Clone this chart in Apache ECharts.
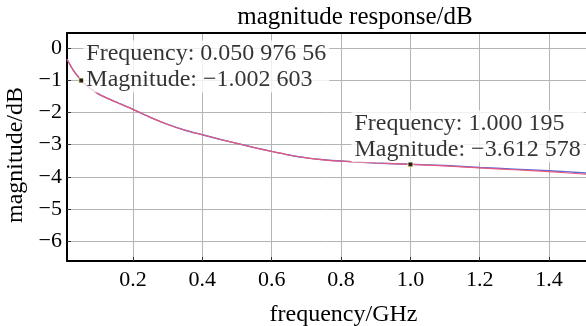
<!DOCTYPE html>
<html>
<head>
<meta charset="utf-8">
<script src="https://cdn.jsdelivr.net/npm/echarts@6/dist/echarts.min.js"></script>
<style>
html,body{margin:0;padding:0;background:#fff;}
#chart{width:586px;height:326px;}
</style>
</head>
<body>
<div id="chart"></div>
<script>
// ---- data ----
const freqGHz = [0.0096, 0.03, 0.051, 0.075, 0.105, 0.15, 0.2, 0.25, 0.3, 0.35, 0.4, 0.45, 0.5, 0.55, 0.6, 0.65, 0.7, 0.75, 0.8, 0.9, 1.0, 1.1, 1.2, 1.3, 1.4, 1.5065];
const magRed  = [-0.34, -0.72, -1.00, -1.24, -1.45, -1.67, -1.90, -2.15, -2.37, -2.55, -2.69, -2.83, -2.96, -3.09, -3.21, -3.32, -3.41, -3.47, -3.51, -3.57, -3.61, -3.66, -3.72, -3.78, -3.84, -3.92];
const magBlue = [-0.34, -0.72, -1.00, -1.24, -1.45, -1.67, -1.90, -2.15, -2.37, -2.55, -2.69, -2.83, -2.96, -3.09, -3.21, -3.32, -3.41, -3.47, -3.51, -3.57, -3.61, -3.65, -3.71, -3.76, -3.81, -3.88];
const markerFreq = [0.05097656, 1.000195];
const markerMag  = [-1.002603, -3.612578];
const markerText = [
  'Frequency: 0.050 976 56\nMagnitude: \u22121.002 603',
  'Frequency: 1.000 195\nMagnitude: \u22123.612 578'
];
const xTicks = [0.2, 0.4, 0.6, 0.8, 1.0, 1.2, 1.4];
const yTicks = [-6, -5, -4, -3, -2, -1, 0];
const titleText = 'magnitude response/dB';
const xName = 'frequency/GHz';
const yName = 'magnitude/dB';

const FONT = '"Liberation Serif", "Times New Roman", serif';
const chart = echarts.init(document.getElementById('chart'), null, {renderer: 'canvas'});

const zip = (a, b) => a.map((v, i) => [v, b[i]]);

const option = {
  animation: false,
  backgroundColor: '#fff',
  title: {
    text: titleText,
    left: 350, top: 0, textAlign: 'center',
    textStyle: {fontFamily: FONT, fontSize: 25, fontWeight: 'normal', color: '#000'}
  },
  grid: {left: 67, right: 0, top: 33, bottom: 65, containLabel: false, outerBoundsMode: 'none'},
  xAxis: [{
    type: 'value', min: 0.0096, max: 1.5065,
    name: xName, nameLocation: 'middle', nameGap: 42,
    nameTextStyle: {fontFamily: FONT, fontSize: 24, color: '#000', padding: [0, 0, 0, 34]},
    axisLine: {show: true, onZero: false, lineStyle: {color: '#000', width: 2}},
    axisTick: {show: true, inside: true, length: 4, customValues: xTicks, lineStyle: {color: '#333'}},
    axisLabel: {customValues: xTicks, fontFamily: FONT, fontSize: 22, color: '#000', margin: 8,
      formatter: v => v.toFixed(1)},
    splitLine: {show: true, lineStyle: {color: '#b4b4b4', width: 1}}
  }, {
    type: 'value', min: 0.0096, max: 1.5065, position: 'top',
    axisLine: {show: true, onZero: false, lineStyle: {color: '#000', width: 2}},
    axisTick: {show: false}, axisLabel: {show: false}, splitLine: {show: false}
  }],
  yAxis: {
    type: 'value', min: -6.62, max: 0.476,
    name: yName, nameLocation: 'middle', nameGap: 38, nameRotate: 90,
    nameTextStyle: {fontFamily: FONT, fontSize: 24, color: '#000', padding: [0, 16, 0, 0]},
    axisLine: {show: true, onZero: false, lineStyle: {color: '#000', width: 2}},
    axisTick: {show: true, inside: true, length: 4, customValues: yTicks, lineStyle: {color: '#333'}},
    axisLabel: {customValues: yTicks, fontFamily: FONT, fontSize: 22, color: '#000', margin: 5,
      formatter: v => String(v).replace('-', '\u2212')},
    splitLine: {show: true, lineStyle: {color: '#b4b4b4', width: 1}}
  },
  series: [
    {
      type: 'line', name: 'blue', data: zip(freqGHz, magBlue), smooth: 0.3,
      showSymbol: false, lineStyle: {color: '#5b6ad8', width: 1.4}, z: 2
    },
    {
      type: 'line', name: 'red', data: zip(freqGHz, magRed), smooth: 0.3,
      showSymbol: false, lineStyle: {color: '#e8587a', width: 1.2}, z: 3
    },
    {
      type: 'scatter', name: 'markers', z: 5,
      data: markerFreq.map((f, i) => ({
        value: [f, markerMag[i]],
        label: i === 0
          ? {show: true, position: 'right', distance: 0, offset: [-1, -14]}
          : {show: true, position: 'right', distance: 2, offset: [-64, -28]}
      })),
      symbol: 'rect', symbolSize: 5,
      itemStyle: {color: '#000', borderColor: '#ffffb0', borderWidth: 1},
      label: {
        formatter: p => markerText[p.dataIndex],
        fontFamily: FONT, fontSize: 24, color: '#000', lineHeight: 26,
        backgroundColor: '#fff', padding: [0, 3, 0, 3], align: 'left'
      }
    }
  ]
};
chart.setOption(option);
</script>
</body>
</html>
